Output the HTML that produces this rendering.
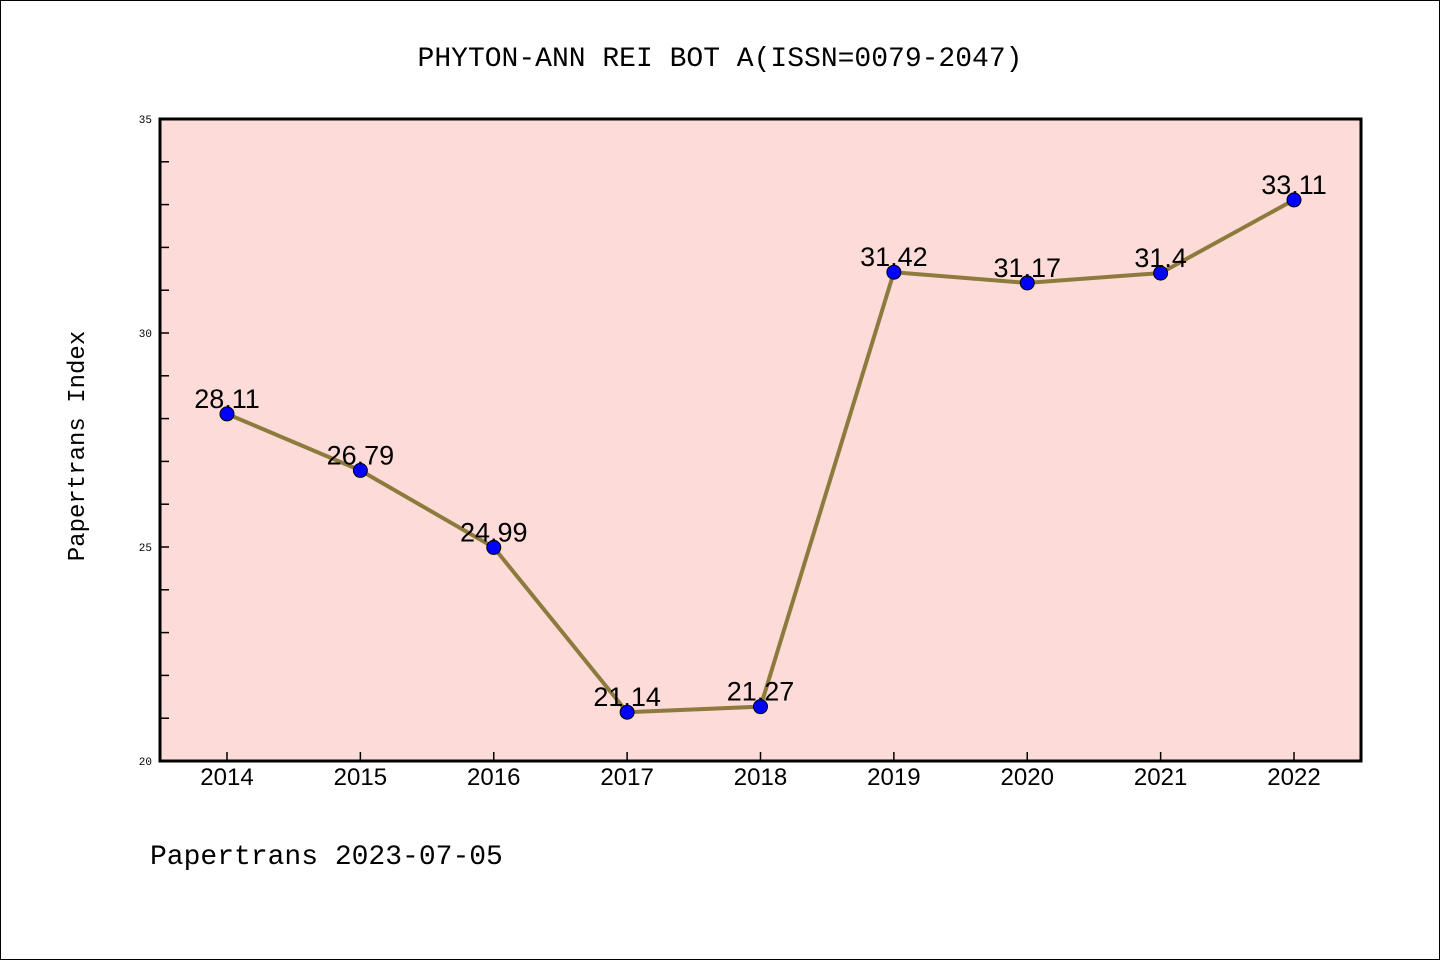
<!DOCTYPE html>
<html><head><meta charset="utf-8"><style>
body{margin:0;background:#fff}
svg{display:block;font-family:"Liberation Mono","DejaVu Sans Mono",monospace}
</style></head><body>
<svg width="1440" height="960">
<rect x="0.5" y="0.5" width="1439" height="959" fill="#fff" stroke="#000"/>
<text x="720" y="66" text-anchor="middle" font-size="28">PHYTON-ANN REI BOT A(ISSN=0079-2047)</text>
<rect x="160" y="119" width="1201" height="642" fill="#fddbd8"/>
<g id="ticks"></g>
<g id="marks"></g>
<rect x="160" y="119" width="1201" height="642" fill="none" stroke="#000" stroke-width="3"/>
<text transform="translate(84,446) rotate(-90)" text-anchor="middle" font-size="24">Papertrans Index</text>
<text x="150" y="864" font-size="28">Papertrans 2023-07-05</text>
</svg>
<script>
const years=["2014","2015","2016","2017","2018","2019","2020","2021","2022"];
const values=[28.11,26.79,24.99,21.14,21.27,31.42,31.17,31.4,33.11];
const labels=["28.11","26.79","24.99","21.14","21.27","31.42","31.17","31.4","33.11"];
const yTicks=[20,25,30,35];
const NS="http://www.w3.org/2000/svg";
const x=i=>227+i*(1294-227)/8;
const y=v=>761-(v-20)*(642/15);
function mk(t,a,p){const e=document.createElementNS(NS,t);for(const k in a)e.setAttribute(k,a[k]);p.appendChild(e);return e;}
const tg=document.getElementById('ticks'),mg=document.getElementById('marks');
for(let v=21;v<35;v++){const l=mk('line',{x1:160,x2:169,y1:y(v),y2:y(v),stroke:'#000','stroke-width':1.5},tg);

}
yTicks.forEach(v=>{const t=mk('text',{x:152,y:y(v)+4,'text-anchor':'end','font-size':11},tg);t.textContent=v;

});
years.forEach((yr,i)=>{const l=mk('line',{x1:x(i),x2:x(i),y1:761,y2:752,stroke:'#000','stroke-width':1.5},tg);


const t=mk('text',{x:x(i),y:785,'text-anchor':'middle','font-size':24,'font-family':'Liberation Sans, sans-serif'},tg);t.textContent=yr;

});
const pl=mk('polyline',{points:values.map((v,i)=>x(i)+','+y(v)).join(' '),fill:'none',stroke:'#8c7b3c','stroke-width':4},mg);


values.forEach((v,i)=>{const c=mk('circle',{cx:x(i),cy:y(v),r:7,fill:'#0000ff',stroke:'#000','stroke-width':1},mg);


const t=mk('text',{x:x(i),y:y(v)-6,'text-anchor':'middle','font-size':27,'font-family':'Liberation Sans, sans-serif'},mg);t.textContent=labels[i];

});
</script>
</body></html>
